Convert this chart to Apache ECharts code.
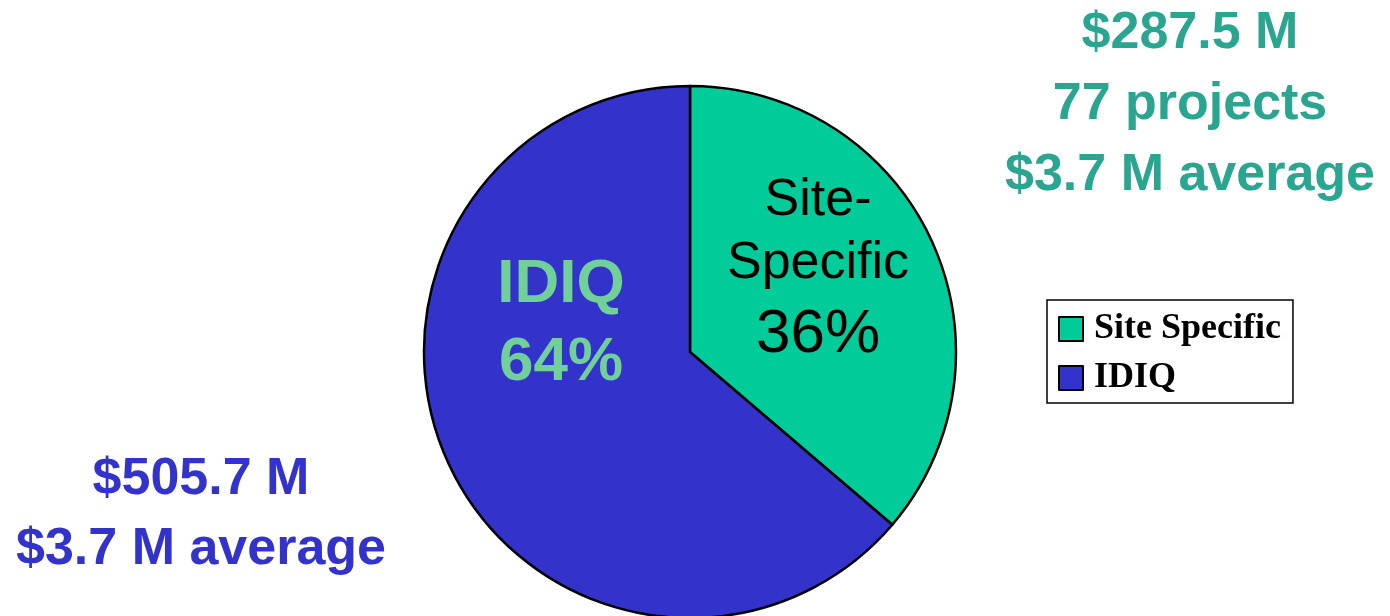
<!DOCTYPE html>
<html>
<head>
<meta charset="utf-8">
<script src="https://cdn.jsdelivr.net/npm/echarts@6/dist/echarts.min.js"></script>
<style>
  html, body { margin: 0; padding: 0; background: #fff; }
  #chart { width: 1390px; height: 616px; }
</style>
</head>
<body>
<div id="chart"></div>
<script>
// Contract dollars by vehicle type ($ millions)
const categories = ['Site Specific', 'IDIQ'];
const values = [287.5, 505.7];
const sliceLabels = ['Site-\nSpecific', 'IDIQ'];
const sliceColors = ['#00cc99', '#3333cc'];

// Side notes for each slice
const siteSpecificNotes = ['$287.5 M', '77 projects', '$3.7 M average'];
const idiqNotes = ['$505.7 M', '$3.7 M average'];

const SANS = "'Liberation Sans', Arial, sans-serif";
const SERIF = "'Liberation Serif', 'Times New Roman', serif";

// centre points of the in-slice labels
const labelCentres = [[818, 272], [561, 324]];

const chart = echarts.init(document.getElementById('chart'), null, { renderer: 'canvas' });

chart.setOption({
  animation: false,
  backgroundColor: '#ffffff',
  legend: {
    orient: 'vertical',
    left: 1047,
    top: 300,
    padding: [11, 12, 7, 11],
    itemGap: 13,
    itemWidth: 24,
    itemHeight: 24,
    icon: 'rect',
    borderColor: '#000',
    borderWidth: 1.5,
    data: categories,
    textStyle: {
      fontFamily: SERIF,
      fontWeight: 'bold',
      fontSize: 36,
      color: '#000',
      padding: [0, 0, 0, 6]
    }
  },
  graphic: [
    {
      type: 'text',
      x: 1190,
      y: -1.5,
      style: {
        text: siteSpecificNotes.join('\n'),
        font: 'bold 52px ' + SANS,
        fill: '#2aa590',
        textAlign: 'center',
        textVerticalAlign: 'top',
        lineHeight: 71
      }
    },
    {
      type: 'text',
      x: 201,
      y: 445,
      style: {
        text: idiqNotes.join('\n'),
        font: 'bold 52px ' + SANS,
        fill: '#3333cc',
        textAlign: 'center',
        textVerticalAlign: 'top',
        lineHeight: 70
      }
    }
  ],
  series: [{
    type: 'pie',
    center: [690, 352],
    radius: 266,
    startAngle: 90,
    clockwise: true,
    silent: true,
    itemStyle: { borderColor: '#000', borderWidth: 2.5 },
    labelLine: { show: false },
    data: categories.map((name, i) => ({
      name: name,
      value: values[i],
      itemStyle: { color: sliceColors[i] },
      label: i === 0 ? {
        show: true,
        position: 'inside',
        formatter: p => sliceLabels[0].split('\n').map(s => '{t|' + s + '}').join('\n') +
          '\n{p|' + Math.round(p.percent) + '%}',
        rich: {
          t: { fontFamily: SANS, fontSize: 52, lineHeight: 63, color: '#000', align: 'center' },
          p: { fontFamily: SANS, fontSize: 62, lineHeight: 80, color: '#000', align: 'center' }
        }
      } : {
        show: true,
        position: 'inside',
        formatter: p => '{t|' + sliceLabels[1] + '}\n{t|' + Math.round(p.percent) + '%}',
        rich: {
          t: { fontFamily: SANS, fontSize: 62, fontWeight: 'bold', lineHeight: 78, color: '#70d098', align: 'center' }
        }
      }
    })),
    labelLayout: params => ({
      x: labelCentres[params.dataIndex][0],
      y: labelCentres[params.dataIndex][1],
      align: 'center',
      verticalAlign: 'middle'
    })
  }]
});
</script>
</body>
</html>
